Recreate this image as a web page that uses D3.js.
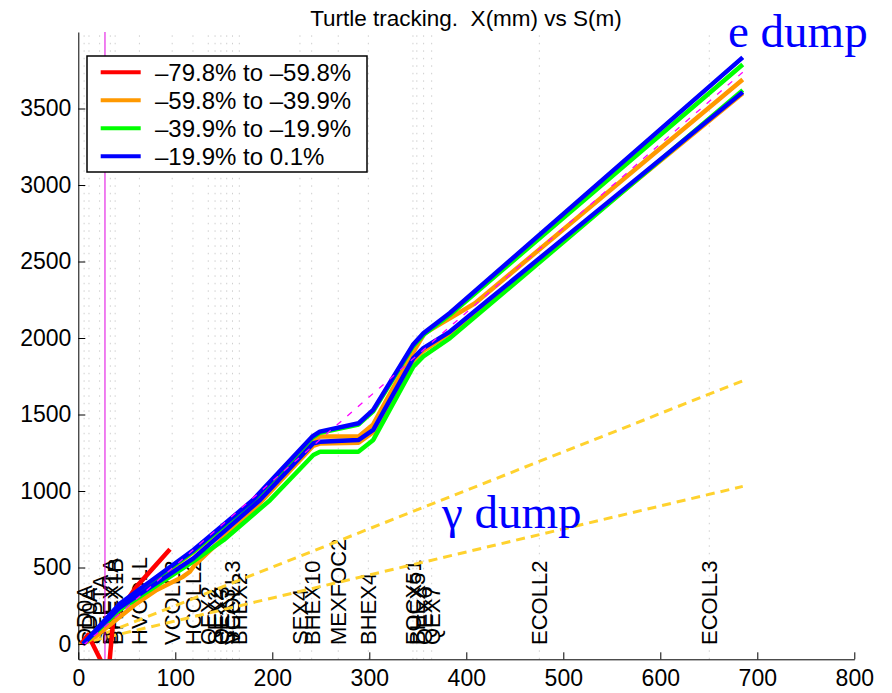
<!DOCTYPE html>
<html>
<head>
<meta charset="utf-8">
<script src="https://cdn.jsdelivr.net/npm/d3@7"></script>
<style>
  html, body { margin: 0; padding: 0; background: #fff; }
  svg { display: block; }
</style>
</head>
<body>
<svg id="chart" width="892" height="693" font-family="'Liberation Sans', Arial, sans-serif"></svg>
<script>
// ---- data: S (m) along the line, X (mm) horizontal offset ----
const redS    = [3, 10, 25, 32, 36, 60, 94.5];
const redX    = [0, 60, -130, -130, 157, 375, 619];

const orangeUpS = [5, 43, 118.6, 180, 240, 249, 289, 304, 326, 345, 357, 409, 685];
const orangeUpX = [0, 250, 600, 920, 1325, 1356, 1356, 1435, 1690, 1905, 2030, 2227, 3690];
const orangeLoS = [5, 20, 60, 80.8, 108, 115, 120, 187, 242, 249, 289, 304, 345, 356, 383, 685];
const orangeLoX = [0, 60, 264, 353, 440, 472, 516, 920, 1295, 1310, 1316, 1385, 1850, 1918, 2030, 3600];

const greenUpS = [5, 43, 118.6, 180, 241, 249, 289, 304, 345, 356, 383, 685];
const greenUpX = [0, 258, 605, 932, 1347, 1380, 1435, 1520, 1945, 2022, 2150, 3788];
const greenLoS = [5, 43, 118.6, 150, 197.6, 242.3, 249.2, 288.7, 304.1, 345.4, 355.7, 383.2, 685];
const greenLoX = [0, 225, 540, 680, 940, 1235, 1257, 1257, 1334, 1813, 1879, 1999, 3620];

const blueUpS = [5, 43, 118.6, 180, 241, 249, 289, 304, 345, 356, 383, 685];
const blueUpX = [0, 265, 614, 941, 1355, 1388, 1443, 1530, 1955, 2032, 2163, 3834];
const blueLoS = [5, 43, 118.6, 187.3, 242.3, 249.2, 288.7, 304.1, 345.4, 355.7, 383.2, 422.7, 685];
const blueLoX = [0, 240, 560, 941, 1312, 1322, 1333, 1399, 1868, 1934, 2042, 2248, 3607];

// reference centre line and photon cone edges
const refS = [5, 685];
const refX = [-10, 3737];
const gammaUpS = [0, 685];
const gammaUpX = [0, 1720];
const gammaLoS = [0, 685];
const gammaLoX = [0, 1030];
const markerS = 27.5;

// beamline element names and positions (m)
const elemNames = ["QD0A", "SD0A", "SEPTA", "BHEX1A", "BHEX1B", "HVCOLL", "VCOLL2", "HCOLL2",
  "QEX2", "SEX2", "QEX3", "SEX3", "VCOLL3", "BHEX2", "SEX4", "BHEX10", "MEXFOC2", "BHEX4",
  "FOCX51", "BHEX5", "QEX6", "QEX7", "ECOLL2", "ECOLL3"];
const elemS = [6, 11, 22, 33, 38, 63, 96.8, 118.2,
  134, 141, 147, 153, 159, 166, 228.5, 240.6, 268, 299,
  345, 349, 356, 364.3, 475.3, 650.5];

const legendLabels = ["\u201379.8% to \u201359.8%", "\u201359.8% to \u201339.9%",
  "\u201339.9% to \u201319.9%", "\u201319.9% to 0.1%"];
const legendColors = ["#ff0000", "#ff9900", "#00ff00", "#0000ff"];

const xTicks = [0, 100, 200, 300, 400, 500, 600, 700, 800];
const yTicks = [0, 500, 1000, 1500, 2000, 2500, 3000, 3500];

// ---- scales ----
const svg = d3.select("#chart");
const x = d3.scaleLinear().domain([0, 800]).range([78.3, 854.3]);
const y = d3.scaleLinear().domain([-100, 4000]).range([659.3, 32]);

svg.append("defs").append("clipPath").attr("id", "plotClip")
  .append("rect").attr("x", x(0)).attr("y", y(4000))
  .attr("width", x(800) - x(0)).attr("height", y(-100) - y(4000));

// element grid lines (dotted)
const grid = svg.append("g");
grid.selectAll("line").data(elemS).join("line")
  .attr("x1", d => x(d)).attr("x2", d => x(d))
  .attr("y1", y(-100)).attr("y2", y(4000))
  .attr("stroke", "#cfcfcf").attr("stroke-width", 1)
  .attr("stroke-dasharray", "1.5,6");

// element labels, vertical
const labels = svg.append("g");
elemNames.forEach((n, i) => {
  labels.append("text")
    .attr("transform", `translate(${x(elemS[i])},645) rotate(-90)`)
    .attr("dy", "0.36em")
    .attr("font-size", 22)
    .attr("fill", "#000")
    .text(n);
});

const plot = svg.append("g").attr("clip-path", "url(#plotClip)");
const line = d3.line().x(d => x(d[0])).y(d => y(d[1]));
const pts = (s, v) => s.map((d, i) => [d, v[i]]);

// photon cone edges
[[gammaUpS, gammaUpX], [gammaLoS, gammaLoX]].forEach(([s, v]) => {
  plot.append("path").attr("d", line(pts(s, v)))
    .attr("fill", "none").attr("stroke", "#ffd22e").attr("stroke-width", 3)
    .attr("stroke-dasharray", "9,6");
});

// marker line
plot.append("line")
  .attr("x1", x(markerS)).attr("x2", x(markerS))
  .attr("y1", y(-100)).attr("y2", y(4000))
  .attr("stroke", "#e000e0").attr("stroke-width", 1);

// tracks
const tracks = [
  [redS, redX, "#ff0000"],
  [orangeLoS, orangeLoX, "#ff9900"], [orangeUpS, orangeUpX, "#ff9900"],
  [greenUpS, greenUpX, "#00ff00"], [greenLoS, greenLoX, "#00ff00"],
  [blueUpS, blueUpX, "#0000ff"], [blueLoS, blueLoX, "#0000ff"]
];
tracks.forEach(([s, v, c]) => {
  plot.append("path").attr("d", line(pts(s, v)))
    .attr("fill", "none").attr("stroke", c).attr("stroke-width", 4.5)
    .attr("stroke-linejoin", "round");
});

// reference centre line
plot.append("path").attr("d", line(pts(refS, refX)))
  .attr("fill", "none").attr("stroke", "#ff00ff").attr("stroke-width", 1.3)
  .attr("stroke-dasharray", "6,8");

// ---- axes ----
const xAxis = svg.append("g").attr("transform", `translate(0,${y(-100)})`)
  .call(d3.axisBottom(x).tickValues(xTicks).tickFormat(d3.format("d"))
    .tickSizeInner(-7).tickSizeOuter(0).tickPadding(10.5));
const yAxis = svg.append("g").attr("transform", `translate(${x(0)},0)`)
  .call(d3.axisLeft(y).tickValues(yTicks).tickFormat(d3.format("d"))
    .tickSizeInner(-7).tickSizeOuter(0).tickPadding(7));
[xAxis, yAxis].forEach(a => {
  a.attr("font-family", null).attr("font-size", null);
  a.selectAll("text").attr("font-size", 23).attr("fill", "#000");
  a.selectAll("line").attr("stroke", "#000");
  a.select(".domain").attr("stroke", "#000");
});

// ---- title and annotations ----
svg.append("text").attr("x", 466).attr("y", 26).attr("text-anchor", "middle")
  .style("white-space", "pre")
  .attr("font-size", 22.5).attr("fill", "#000")
  .text("Turtle tracking.  X(mm) vs S(m)");

svg.append("text").attr("x", 728).attr("y", 47)
  .attr("font-family", "'Liberation Serif', 'Times New Roman', serif")
  .attr("font-size", 47).attr("fill", "#0000ff").text("e dump");
svg.append("text").attr("x", 442).attr("y", 528)
  .attr("font-family", "'Liberation Serif', 'Times New Roman', serif")
  .attr("font-size", 47).attr("fill", "#0000ff").text("\u03b3 dump");

// ---- legend ----
const lg = svg.append("g");
lg.append("rect").attr("x", 87).attr("y", 56).attr("width", 280).attr("height", 116)
  .attr("fill", "#fff").attr("stroke", "#000").attr("stroke-width", 1.5);
legendLabels.forEach((t, i) => {
  const yy = 72.3 + i * 28;
  lg.append("line").attr("x1", 100.7).attr("x2", 140.7).attr("y1", yy).attr("y2", yy)
    .attr("stroke", legendColors[i]).attr("stroke-width", 4);
  lg.append("text").attr("x", 155).attr("y", yy).attr("dy", "0.36em")
    .attr("font-size", 24).attr("fill", "#000").text(t);
});
</script>
</body>
</html>
